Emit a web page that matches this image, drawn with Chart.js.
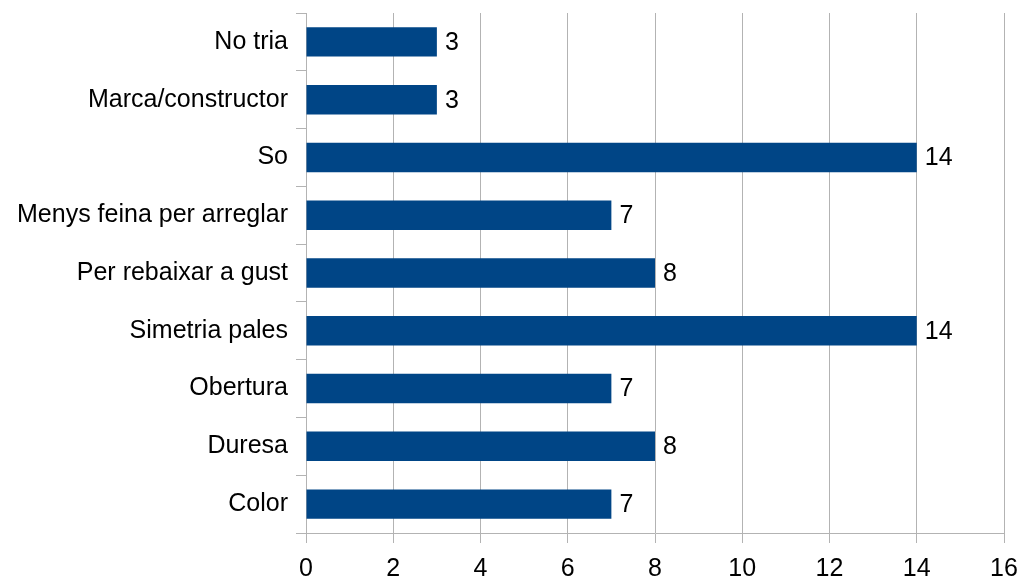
<!DOCTYPE html>
<html>
<head>
<meta charset="utf-8">
<script src="https://cdn.jsdelivr.net/npm/chart.js@4/dist/chart.umd.min.js"></script>
<style>
  html, body { margin: 0; padding: 0; background: #fff; }
  #wrap { width: 1023px; height: 581px; }
</style>
</head>
<body>
<div id="wrap"><canvas id="chart" width="1023" height="581"></canvas></div>
<script>
// ===== DATA =====
const categories = [
    'No tria', 'Marca/constructor', 'So', 'Menys feina per arreglar',
    'Per rebaixar a gust', 'Simetria pales', 'Obertura', 'Duresa', 'Color'
];
const counts = [3, 3, 14, 7, 8, 14, 7, 8, 7];
const xTicks = [0, 2, 4, 6, 8, 10, 12, 14, 16];

const GRID = '#b3b3b3';
const FONT = { family: '"Liberation Sans", Arial, sans-serif', size: 25 };

// ===== VALUE LABELS =====
const valueLabels = {
    id: 'valueLabels',
    afterDatasetsDraw(chart) {
        const ctx = chart.ctx;
        const meta = chart.getDatasetMeta(0);
        ctx.save();
        ctx.font = `${FONT.size}px ${FONT.family}`;
        ctx.fillStyle = '#000';
        ctx.textAlign = 'left';
        ctx.textBaseline = 'middle';
        meta.data.forEach((bar, i) => {
            ctx.fillText(String(counts[i]), bar.x + 8, bar.y + 1);
        });
        ctx.restore();
    }
};

// ===== CHART =====
new Chart(document.getElementById('chart'), {
    type: 'bar',
    data: {
        labels: categories,
        datasets: [{
            data: counts,
            backgroundColor: '#004586',
            borderWidth: 0,
            barPercentage: 0.51,
            categoryPercentage: 1
        }]
    },
    options: {
        indexAxis: 'y',
        responsive: false,
        animation: false,
        layout: { padding: { top: 13, right: 19, left: 0, bottom: 0 } },
        plugins: {
            legend: { display: false },
            tooltip: { enabled: false }
        },
        scales: {
            x: {
                min: 0,
                max: 16,
                afterBuildTicks: s => { s.ticks = xTicks.map(v => ({ value: v })); },
                afterFit: s => { s.height = 48; s.paddingLeft = 0; s.paddingRight = 0; },
                grid: { color: GRID, tickLength: 10, lineWidth: 1 },
                border: { color: GRID },
                ticks: { color: '#000', font: FONT, padding: 11, maxRotation: 0 }
            },
            y: {
                afterFit: s => { s.width = 306; s.paddingTop = 0; s.paddingBottom = 0; },
                grid: { color: GRID, drawOnChartArea: false, tickLength: 10, offset: true },
                border: { color: GRID },
                ticks: { color: '#000', font: FONT, padding: 8, autoSkip: false }
            }
        }
    },
    plugins: [valueLabels]
});
</script>
</body>
</html>
